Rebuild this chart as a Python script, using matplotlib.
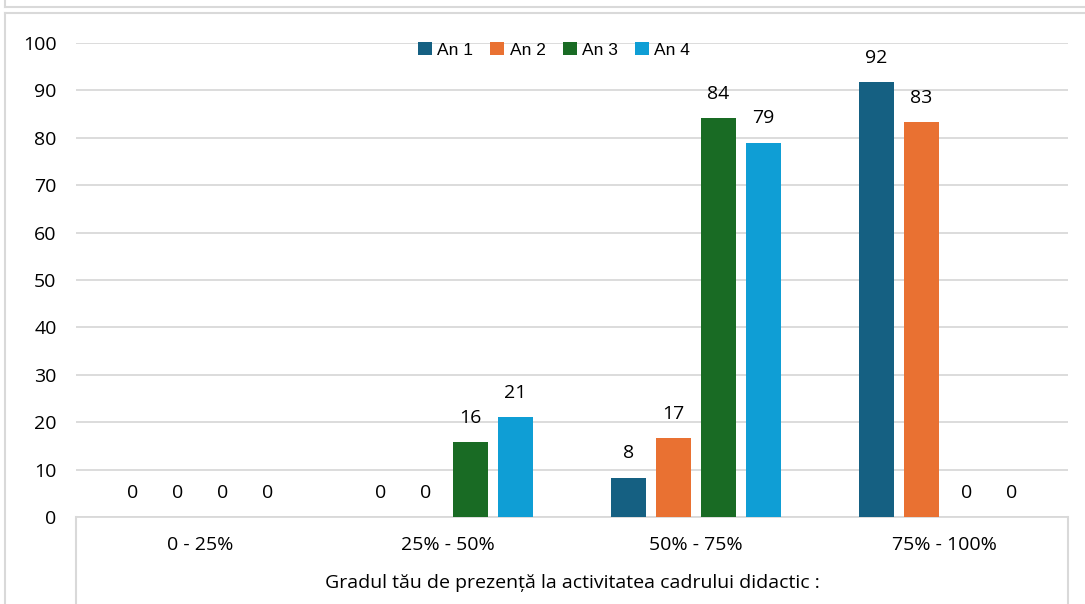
import numpy as np
import matplotlib
matplotlib.use("Agg")
from matplotlib import pyplot as plt
from matplotlib.lines import Line2D

categories = ['0 - 25%', '25% - 50%', '50% - 75%', '75% - 100%']
series_names = ['An 1', 'An 2', 'An 3', 'An 4']
an1 = [0, 0, 8.33, 91.67]
an2 = [0, 0, 16.67, 83.33]
an3 = [0, 15.79, 84.21, 0]
an4 = [0, 21.05, 78.95, 0]
colors = ['#156082', '#E97132', '#196B24', '#0F9ED5']
y_ticks = [0, 10, 20, 30, 40, 50, 60, 70, 80, 90, 100]
x_title = 'Gradul tău de prezență la activitatea cadrului didactic :'

plt.rcParams['font.family'] = ['Open Sans', 'DejaVu Sans']
grey = '#D9D9D9'
fs = 14

fig = plt.figure(figsize=(10.85, 6.04), dpi=100)
ax = fig.add_axes([76 / 1085, 1 - 517 / 604, (1068 - 76) / 1085, (517 - 43) / 604])

x = np.arange(len(categories))
width = 0.141
pitch = 0.181
for i, (vals, name) in enumerate(zip([an1, an2, an3, an4], series_names)):
    pos = x + (i - 1.5) * pitch
    bars = ax.bar(pos, vals, width, color=colors[i], label=name, zorder=3)
    for b, v in zip(bars, vals):
        ax.annotate(f'{v:.0f}', (b.get_x() + b.get_width() / 2, v),
                    xytext=(0, 11), textcoords='offset points',
                    ha='center', va='bottom', fontsize=fs, color='#000000')

ax.set_xlim(-0.5, len(categories) - 0.5)
ax.set_ylim(0, 100)
ax.set_yticks(y_ticks)
ax.tick_params(axis='y', length=0, pad=14, labelsize=fs)
ax.set_xticks(x)
ax.set_xticklabels(categories, fontsize=fs)
ax.tick_params(axis='x', length=0, pad=14)
ax.grid(axis='y', color=grey, linewidth=1.3, zorder=0)
for s in ['top', 'right', 'left']:
    ax.spines[s].set_visible(False)
ax.spines['bottom'].set_color(grey)
ax.spines['bottom'].set_linewidth(1.3)

ax.set_xlabel(x_title, fontsize=fs, labelpad=14)

leg = fig.legend(loc='center', bbox_to_anchor=(554 / 1085, 1 - 50 / 604), ncol=4,
                 frameon=False, handlelength=0.8, handleheight=0.8,
                 handletextpad=0.3, columnspacing=1.0,
                 prop={'family': 'Liberation Sans', 'size': 12.5})

# table-like lines below the plot area
for px in [76, 1068]:
    fig.add_artist(Line2D([px / 1085, px / 1085], [1 - 517 / 604, 0],
                          color=grey, linewidth=1.5))

# chart frame
fig.add_artist(Line2D([4.5 / 1085, 4.5 / 1085], [0, 1 - 13 / 604], color=grey, linewidth=1.5))
fig.add_artist(Line2D([4.5 / 1085, 1], [1 - 13 / 604, 1 - 13 / 604], color=grey, linewidth=1.5))
fig.add_artist(Line2D([4.5 / 1085, 1], [1 - 7 / 604, 1 - 7 / 604], color=grey, linewidth=1.5))
fig.add_artist(Line2D([4.5 / 1085, 4.5 / 1085], [1 - 7 / 604, 1], color=grey, linewidth=1.5))

fig.savefig('out.png', dpi=100)
plt.close(fig)
